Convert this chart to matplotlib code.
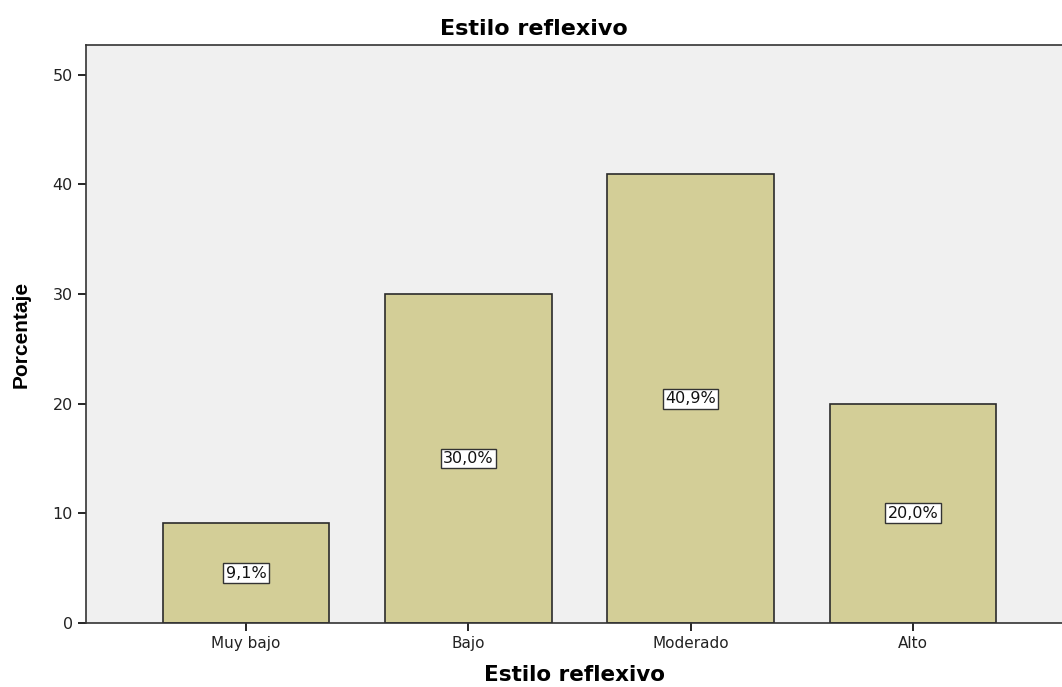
import matplotlib
matplotlib.use("Agg")
import matplotlib.pyplot as plt
import numpy as np

# ==========================
# Data
# ==========================

categories = ["Muy bajo", "Bajo", "Moderado", "Alto"]
percentages = [9.1, 30.0, 40.9, 20.0]
bar_labels = ["9,1%", "30,0%", "40,9%", "20,0%"]
y_ticks = [0, 10, 20, 30, 40, 50]

# ==========================
# Style
# ==========================

plt.rcParams["font.family"] = ["DejaVu Sans"]

BG_COLOR = "#F0F0F0"
BAR_COLOR = "#D3CE97"
EDGE_COLOR = "#2b2b2b"

# ==========================
# Plot
# ==========================

fig = plt.figure(figsize=(10.62, 6.87), dpi=100)
ax = fig.add_axes([0.081, 0.0932, 0.919, 0.8413])
ax.set_facecolor(BG_COLOR)

x = np.arange(len(categories))
bars = ax.bar(x, percentages, width=0.75, color=BAR_COLOR,
              edgecolor=EDGE_COLOR, linewidth=1.2, zorder=2)

for xi, val, lab in zip(x, percentages, bar_labels):
    ax.text(xi, val / 2, lab, ha="center", va="center", fontsize=11.5,
            color="#111111", zorder=3,
            bbox=dict(boxstyle="square,pad=0.15", facecolor="white",
                      edgecolor="#333333", linewidth=1.0))

ax.set_xlim(-0.72, 3.67)
ax.set_ylim(0, 52.7)
ax.set_xticks(x)
ax.set_xticklabels(categories, fontsize=11)
ax.set_yticks(y_ticks)
ax.tick_params(axis="y", labelsize=11.5, length=6, width=1.2, direction="out",
               labelcolor="#222222")
ax.tick_params(axis="x", length=6, width=1.2, direction="out",
               labelcolor="#222222")

for side in ["top", "left", "bottom"]:
    ax.spines[side].set_color("#333333")
    ax.spines[side].set_linewidth(1.2)
ax.spines["right"].set_visible(False)

fig.text(0.503, 0.958, "Estilo reflexivo", ha="center", va="center",
         fontsize=16, fontweight="bold")
ax.set_xlabel("Estilo reflexivo", fontsize=15.5, fontweight="bold", labelpad=10)
ax.set_ylabel("Porcentaje", fontsize=15, fontweight="bold", labelpad=16,
              family=["Liberation Sans", "DejaVu Sans"])

fig.savefig("out.png", dpi=100)
